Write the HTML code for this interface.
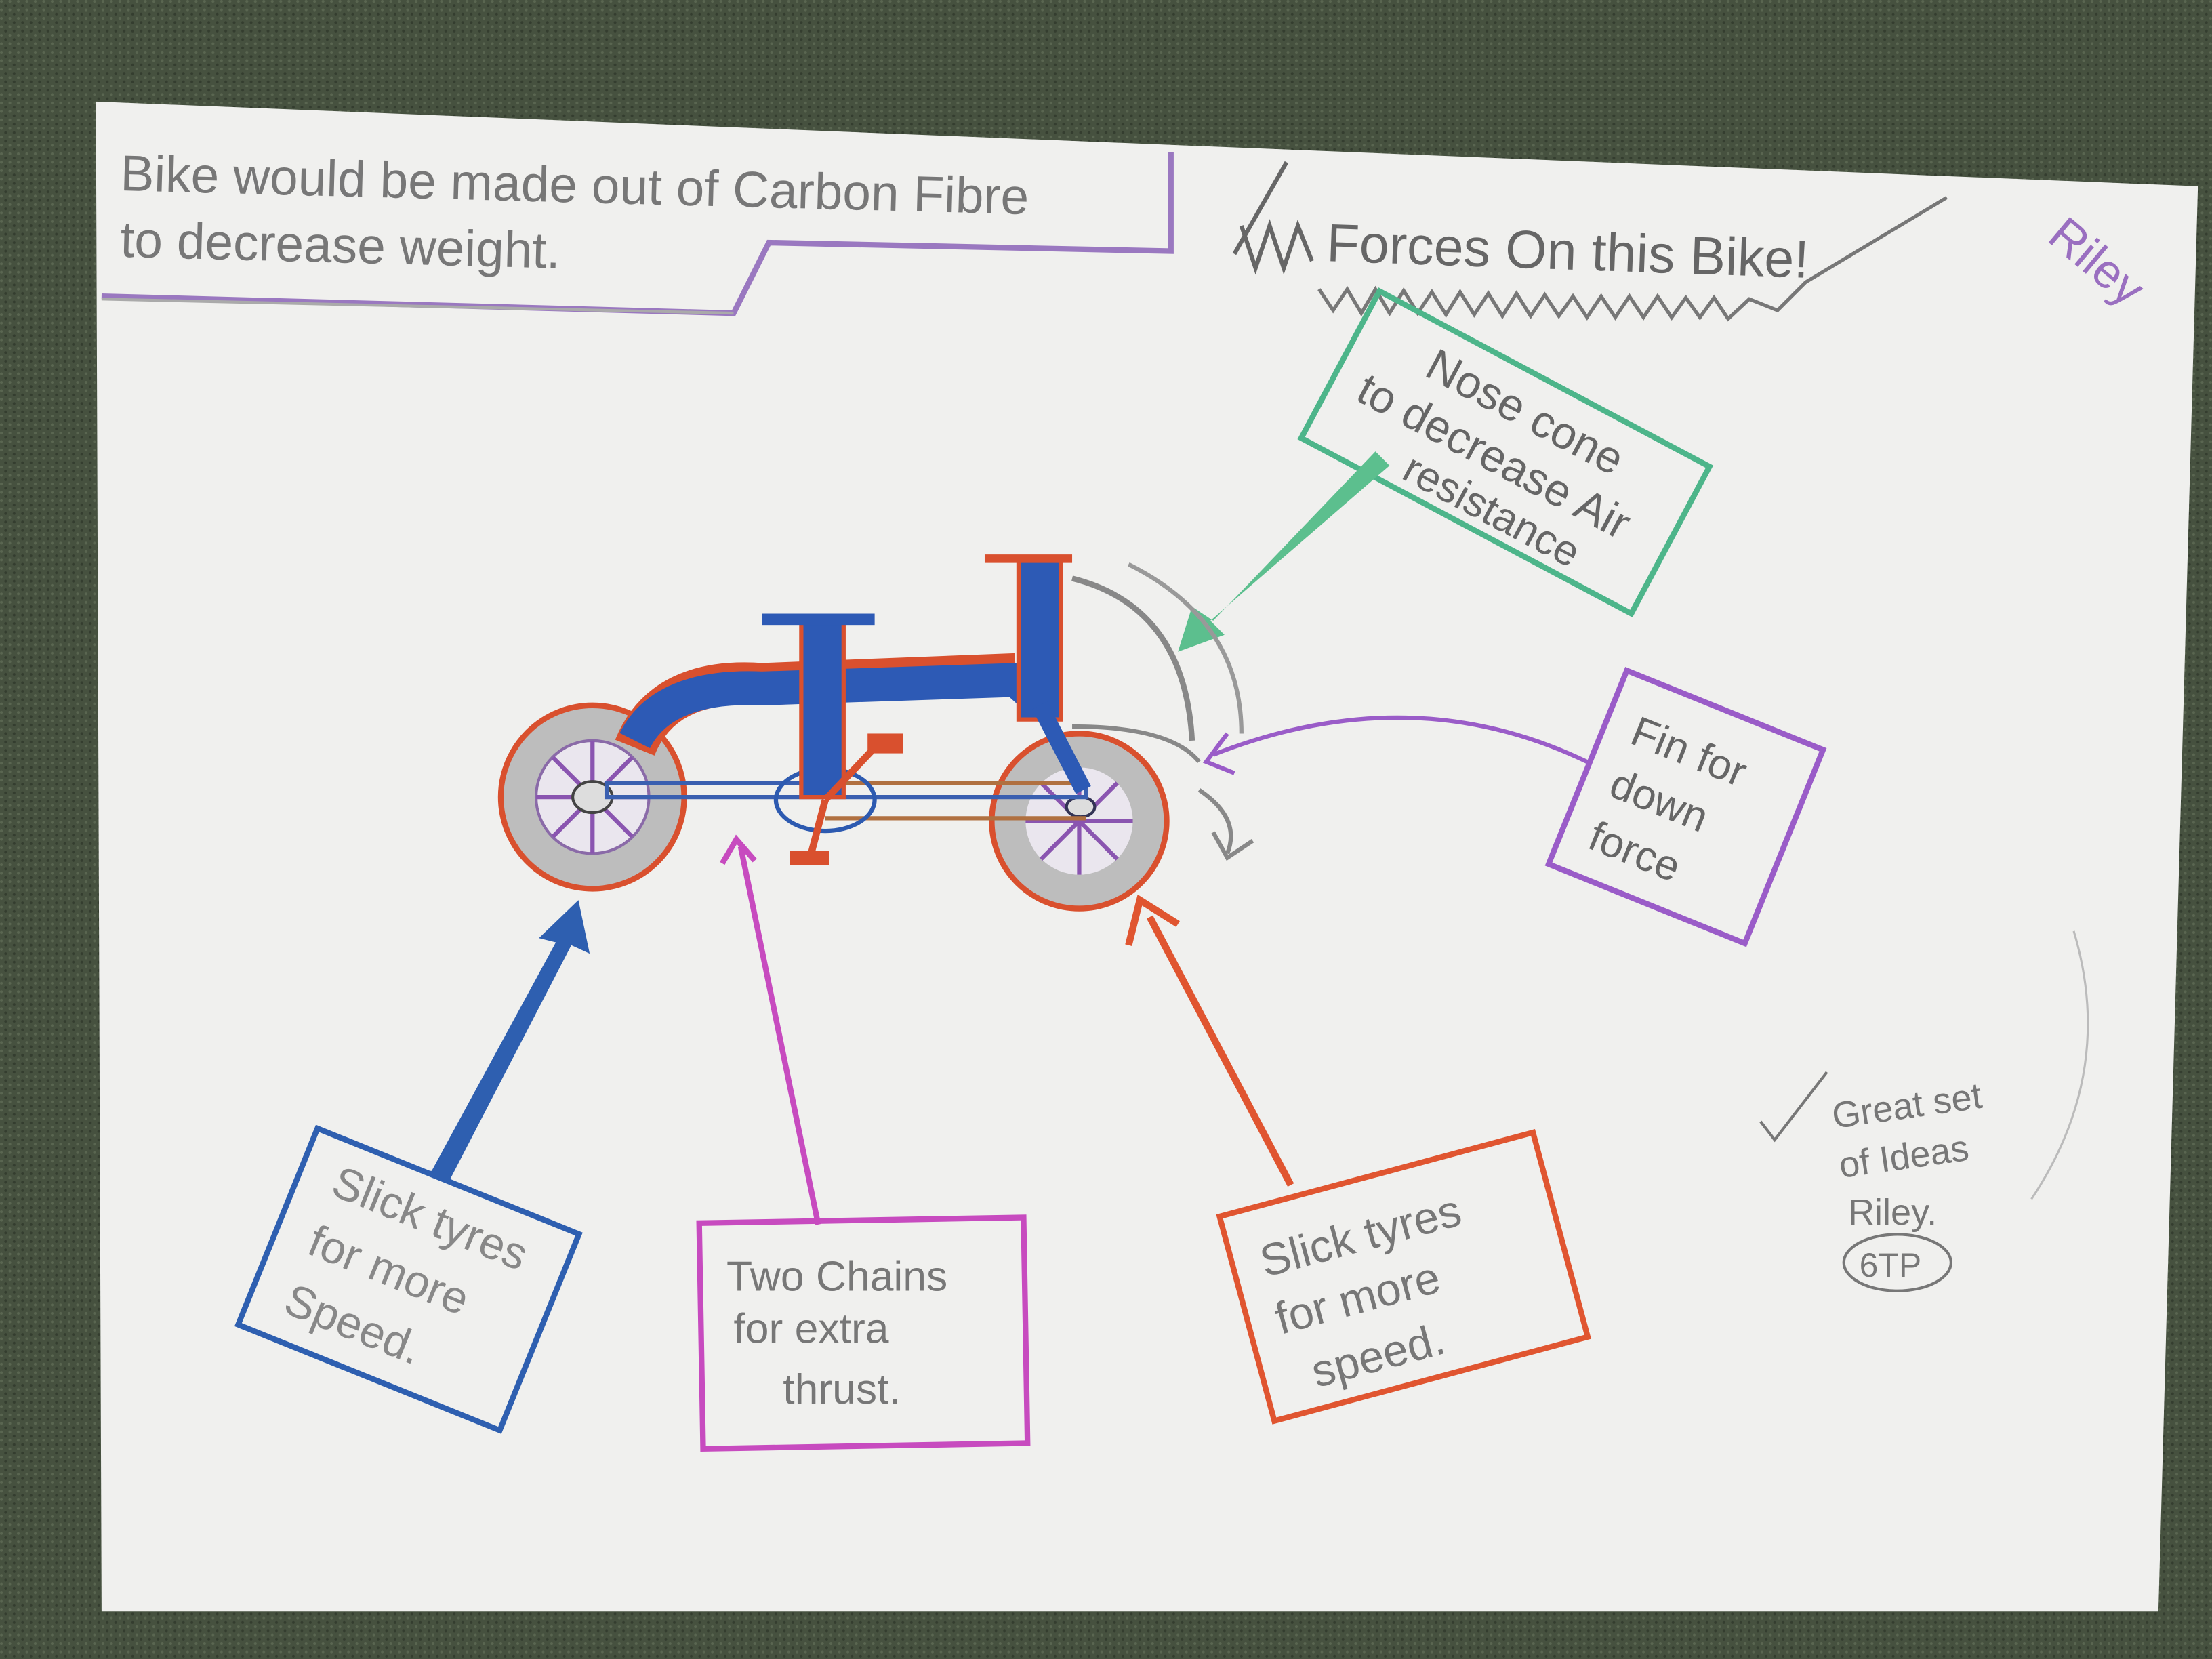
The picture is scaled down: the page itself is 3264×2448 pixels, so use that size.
<!DOCTYPE html>
<html><head><meta charset="utf-8">
<style>
html,body{margin:0;padding:0;width:3264px;height:2448px;overflow:hidden;background:#46513f;}
svg{display:block}
text{font-family:"Liberation Sans",sans-serif;}
</style></head>
<body>
<svg width="3264" height="2448" viewBox="0 0 1568 1176" xmlns="http://www.w3.org/2000/svg">
<defs>
<pattern id="carpet" width="6" height="6" patternUnits="userSpaceOnUse">
<rect width="6" height="6" fill="#46513f"/>
<circle cx="1" cy="1" r="1" fill="#5a6651"/>
<circle cx="4" cy="4" r="1" fill="#343d2f"/>
</pattern>
</defs>
<rect width="1568" height="1176" fill="url(#carpet)"/>
<polygon points="68,72 1558,132 1530,1142 72,1142" fill="#f0f0ee"/>

<polyline points="72,210 520,222 545,172 830,178 830,108" fill="none" stroke="#9a78c0" stroke-width="4"/>
<line x1="72" y1="212" x2="520" y2="222" stroke="#aaa" stroke-width="2"/>
<text x="85" y="135" font-size="36" fill="#777" transform="rotate(1.5 85 135)">Bike would be made out of Carbon Fibre</text>
<text x="85" y="182" font-size="36" fill="#777" transform="rotate(1.5 85 182)">to decrease weight.</text>

<polyline points="875,180 912,115" fill="none" stroke="#666" stroke-width="3"/>
<polyline points="880,160 890,190 900,160 910,190 920,160 930,185" fill="none" stroke="#666" stroke-width="3"/>
<text x="940" y="185" font-size="38" fill="#666" transform="rotate(2 940 185)">Forces On this Bike!</text>
<polyline points="935,205 945,220 955,205 965,222 975,205 985,222 995,206 1005,222 1015,207 1025,223 1035,207 1045,223 1055,208 1065,224 1075,208 1085,224 1095,209 1105,224 1115,210 1125,225 1135,210 1145,225 1155,210 1165,225 1175,210 1185,225 1195,211 1205,225 1215,211 1225,226 1240,212 1260,220 1280,200 1380,140" fill="none" stroke="#777" stroke-width="2.5"/>
<text x="1450" y="170" font-size="34" fill="#9a6fc0" transform="rotate(40 1450 170)">Riley</text>

<g transform="rotate(28 1068 320)">
<rect x="935" y="262" width="265" height="118" fill="none" stroke="#4db58a" stroke-width="4"/>
<text x="990" y="300" font-size="32" fill="#666">Nose cone</text>
<text x="955" y="338" font-size="32" fill="#666">to decrease Air</text>
<text x="1010" y="372" font-size="30" fill="#666">resistance</text>
</g>
<polygon points="985,330 975,320 860,440 845,430 835,462 868,450 858,440" fill="#5cbf8e"/>

<g transform="rotate(22 1195 572)">
<rect x="1120" y="498" width="150" height="148" fill="none" stroke="#9a5cc8" stroke-width="4"/>
<text x="1140" y="545" font-size="30" fill="#666">Fin for</text>
<text x="1140" y="585" font-size="30" fill="#666">down</text>
<text x="1140" y="625" font-size="30" fill="#666">force</text>
</g>
<path d="M1125,540 Q1000,480 860,535" fill="none" stroke="#9a5cc8" stroke-width="3"/>
<polyline points="870,520 855,540 875,548" fill="none" stroke="#9a5cc8" stroke-width="3"/>

<g>
<circle cx="420" cy="565" r="65" fill="#bdbdbd" stroke="#d9502e" stroke-width="4"/>
<circle cx="420" cy="565" r="40" fill="#eae6ee" stroke="#8a6aa8" stroke-width="2"/>
<g stroke="#8a55b0" stroke-width="3">
<line x1="380" y1="565" x2="460" y2="565"/><line x1="420" y1="525" x2="420" y2="605"/>
<line x1="392" y1="537" x2="448" y2="593"/><line x1="448" y1="537" x2="392" y2="593"/></g>
<ellipse cx="420" cy="565" rx="14" ry="11" fill="#ddd" stroke="#444" stroke-width="2"/>
<circle cx="765" cy="582" r="62" fill="#bdbdbd" stroke="#d9502e" stroke-width="4"/>
<circle cx="765" cy="582" r="38" fill="#eae6ee"/>
<g stroke="#8a55b0" stroke-width="3">
<line x1="727" y1="582" x2="803" y2="582"/><line x1="765" y1="544" x2="765" y2="620"/>
<line x1="738" y1="555" x2="792" y2="609"/><line x1="792" y1="555" x2="738" y2="609"/></g>
<ellipse cx="766" cy="572" rx="10" ry="7" fill="#ddd" stroke="#335" stroke-width="2"/>
<rect x="430" y="555" width="340" height="10" fill="none" stroke="#3a5fb0" stroke-width="3"/>
<line x1="585" y1="555" x2="770" y2="555" stroke="#b07040" stroke-width="3"/>
<line x1="585" y1="580" x2="770" y2="580" stroke="#b07040" stroke-width="3"/>
<ellipse cx="585" cy="567" rx="35" ry="22" fill="none" stroke="#2d5ab0" stroke-width="3"/>
<path d="M450,530 Q470,480 540,485 L720,478" fill="none" stroke="#d9502e" stroke-width="30"/>
<path d="M450,525 Q470,485 540,488 L720,482 L740,500" fill="none" stroke="#2d5ab5" stroke-width="24"/>
<rect x="568" y="440" width="30" height="125" fill="#2d5ab5" stroke="#d9502e" stroke-width="3"/>
<rect x="540" y="435" width="80" height="8" fill="#2d5ab5"/>
<rect x="722" y="395" width="30" height="115" fill="#2d5ab5" stroke="#d9502e" stroke-width="3"/>
<line x1="698" y1="396" x2="760" y2="396" stroke="#d9502e" stroke-width="6"/>
<line x1="737" y1="500" x2="768" y2="560" stroke="#2d5ab5" stroke-width="12"/>
<line x1="585" y1="567" x2="620" y2="530" stroke="#d9502e" stroke-width="5"/>
<rect x="615" y="520" width="25" height="14" fill="#d9502e"/>
<line x1="585" y1="567" x2="575" y2="605" stroke="#d9502e" stroke-width="5"/>
<rect x="560" y="603" width="28" height="10" fill="#d9502e"/>
<path d="M760,410 Q840,430 845,525" fill="none" stroke="#888" stroke-width="4"/>
<path d="M800,400 Q880,440 880,520" fill="none" stroke="#999" stroke-width="3"/>
<path d="M760,515 Q830,515 850,540" fill="none" stroke="#888" stroke-width="3"/>
<path d="M850,560 Q880,580 870,605" fill="none" stroke="#888" stroke-width="3"/>
<polyline points="860,590 870,608 888,596" fill="none" stroke="#888" stroke-width="3"/>
</g>

<g transform="rotate(22 285 905)">
<rect x="190" y="830" width="200" height="150" fill="none" stroke="#2e5fb0" stroke-width="4"/>
<text x="215" y="870" font-size="32" fill="#888">Slick tyres</text>
<text x="215" y="915" font-size="32" fill="#888">for more</text>
<text x="215" y="960" font-size="32" fill="#888">Speed.</text>
</g>
<polygon points="298,830 318,838 405,670 418,676 410,638 382,665 394,668 306,830" fill="#2e5fb0"/>

<rect x="497" y="865" width="230" height="160" fill="none" stroke="#c74bbf" stroke-width="4" transform="rotate(-1 612 945)"/>
<text x="515" y="915" font-size="30" fill="#777">Two Chains</text>
<text x="520" y="952" font-size="30" fill="#777">for extra</text>
<text x="555" y="995" font-size="30" fill="#777">thrust.</text>
<line x1="580" y1="868" x2="525" y2="600" stroke="#c74bbf" stroke-width="4"/>
<polyline points="512,612 522,595 535,610" fill="none" stroke="#c74bbf" stroke-width="4"/>

<g transform="rotate(-15 995 905)">
<rect x="880" y="830" width="230" height="150" fill="none" stroke="#e05530" stroke-width="4"/>
<text x="900" y="880" font-size="32" fill="#777">Slick tyres</text>
<text x="900" y="922" font-size="32" fill="#777">for more</text>
<text x="915" y="965" font-size="32" fill="#777">speed.</text>
</g>
<line x1="915" y1="840" x2="815" y2="650" stroke="#e05530" stroke-width="5"/>
<polyline points="800,670 808,638 835,655" fill="none" stroke="#e05530" stroke-width="5"/>

<polyline points="1248,795 1258,808 1295,760" fill="none" stroke="#777" stroke-width="2"/>
<text x="1300" y="800" font-size="26" fill="#777" transform="rotate(-8 1300 800)">Great set</text>
<text x="1305" y="835" font-size="26" fill="#777" transform="rotate(-8 1305 835)">of Ideas</text>
<text x="1310" y="868" font-size="26" fill="#777">Riley.</text>
<ellipse cx="1345" cy="895" rx="38" ry="20" fill="none" stroke="#777" stroke-width="2"/>
<text x="1318" y="905" font-size="24" fill="#777">6TP</text>
<path d="M1470,660 Q1500,760 1440,850" fill="none" stroke="#bbb" stroke-width="1.5"/>
</svg>
</body></html>
